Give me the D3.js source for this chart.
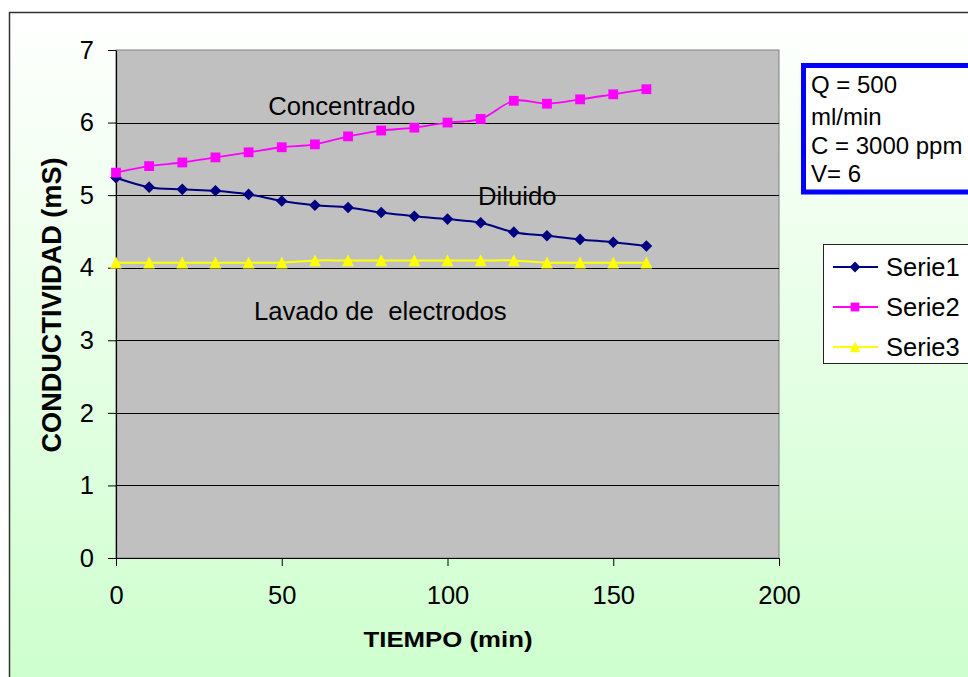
<!DOCTYPE html>
<html>
<head>
<meta charset="utf-8">
<script src="https://cdn.jsdelivr.net/npm/d3@7"></script>
<style>
  body { margin: 0; background: #ffffff; }
  svg { display: block; }
  text { font-family: Arial, "Liberation Sans", sans-serif; fill: #000; white-space: pre; }
</style>
</head>
<body>
<svg id="chart" width="968" height="677"></svg>
<script>
// Time (min) and conductivity (mS) readings
const tiempo = [0, 10, 20, 30, 40, 50, 60, 70, 80, 90, 100, 110, 120, 130, 140, 150, 160];
const serie1 = [5.24, 5.11, 5.08, 5.06, 5.01, 4.92, 4.86, 4.83, 4.76, 4.71, 4.67, 4.62, 4.49, 4.44, 4.39, 4.35, 4.30];
const serie2 = [5.31, 5.40, 5.45, 5.52, 5.59, 5.66, 5.70, 5.81, 5.89, 5.93, 6.00, 6.05, 6.30, 6.26, 6.32, 6.39, 6.46];
const serie3 = [4.07, 4.07, 4.07, 4.07, 4.07, 4.07, 4.10, 4.10, 4.10, 4.10, 4.10, 4.10, 4.10, 4.07, 4.07, 4.07, 4.07];
const seriesNames = ["Serie1", "Serie2", "Serie3"];
const xTicks = [0, 50, 100, 150, 200];
const yTicks = [0, 1, 2, 3, 4, 5, 6, 7];
const streamLabels = ["Concentrado", "Diluido", "Lavado de  electrodos"];
const conditions = ["Q = 500", "ml/min", "C = 3000 ppm", "V= 6"];

const svg = d3.select("#chart");

// Chart frame with soft white-to-green fill
const defs = svg.append("defs");
const grad = defs.append("linearGradient").attr("id", "bg")
  .attr("x1", 0).attr("y1", 0).attr("x2", 0).attr("y2", 1);
grad.append("stop").attr("offset", "0%").attr("stop-color", "#ffffff");
grad.append("stop").attr("offset", "100%").attr("stop-color", "#ccffcc");

svg.append("rect")
  .attr("x", 9.5).attr("y", 12.5).attr("width", 990).attr("height", 690)
  .attr("fill", "url(#bg)").attr("stroke", "#333").attr("stroke-width", 1.5);

// Plot area
const plot = { left: 116, top: 50, right: 779, bottom: 558 };
const x = d3.scaleLinear().domain([0, 200]).range([plot.left, plot.right]);
const y = d3.scaleLinear().domain([0, 7]).range([plot.bottom, plot.top]);

svg.append("rect")
  .attr("x", plot.left).attr("y", plot.top)
  .attr("width", plot.right - plot.left).attr("height", plot.bottom - plot.top)
  .attr("fill", "#c0c0c0").attr("stroke", "#808080").attr("stroke-width", 1);

// Horizontal gridlines
svg.append("g").selectAll("line")
  .data(yTicks.filter(v => v > 0 && v < 7))
  .join("line")
  .attr("x1", plot.left).attr("x2", plot.right)
  .attr("y1", d => Math.round(y(d)) + 0.5).attr("y2", d => Math.round(y(d)) + 0.5)
  .attr("stroke", "#000").attr("stroke-width", 1);

// Axes
const yAxis = svg.append("g")
  .attr("transform", `translate(${plot.left},0)`)
  .call(d3.axisLeft(y).tickValues(yTicks).tickFormat(d3.format("d")).tickSizeInner(8).tickSizeOuter(0).tickPadding(14));
const xAxis = svg.append("g")
  .attr("transform", `translate(0,${plot.bottom})`)
  .call(d3.axisBottom(x).tickValues(xTicks).tickFormat(d3.format("d")).tickSizeInner(8).tickSizeOuter(0).tickPadding(20));

[yAxis, xAxis].forEach(g => {
  g.select(".domain").attr("stroke", "#000").attr("stroke-width", 1.2);
  g.selectAll(".tick line").attr("stroke", "#000").attr("stroke-width", 1);
  g.selectAll(".tick text").attr("font-size", 25.5).attr("font-family", "Arial, 'Liberation Sans', sans-serif").attr("fill", "#000");
});

// Axis titles
svg.append("text")
  .attr("transform", `translate(61,305) rotate(-90)`)
  .attr("text-anchor", "middle")
  .attr("font-size", 27).attr("font-weight", "bold")
  .attr("textLength", 295).attr("lengthAdjust", "spacingAndGlyphs")
  .text("CONDUCTIVIDAD (mS)");
svg.append("text")
  .attr("x", 448).attr("y", 646.5)
  .attr("text-anchor", "middle")
  .attr("font-size", 22).attr("font-weight", "bold")
  .attr("textLength", 169).attr("lengthAdjust", "spacingAndGlyphs")
  .text("TIEMPO (min)");

// Marker shapes
const markerPath = {
  diamond: r => `M0,${-r}L${r},0L0,${r}L${-r},0Z`,
  square: r => `M${-r},${-r}H${r}V${r}H${-r}Z`,
  triangle: r => `M0,${-r * 1.1}L${r * 1.05},${r * 1.05}L${-r * 1.05},${r * 1.05}Z`
};
const styles = [
  { color: "#000080", width: 2, shape: "diamond", r: 5.8, lr: 5.4 },
  { color: "#ff00ff", width: 1.8, shape: "square", r: 4.9, lr: 4.4 },
  { color: "#ffff00", width: 2, shape: "triangle", r: 5.6, lr: 5.0 }
];
const seriesData = [serie1, serie2, serie3];

const line = d3.line()
  .x(d => x(d[0])).y(d => y(d[1]))
  .curve(d3.curveCardinal.tension(0));

// Draw yellow first so the other series sit above it
[2, 0, 1].forEach(i => {
  const pts = tiempo.map((t, k) => [t, seriesData[i][k]]);
  const st = styles[i];
  const g = svg.append("g");
  g.append("path").datum(pts)
    .attr("d", line).attr("fill", "none")
    .attr("stroke", st.color).attr("stroke-width", st.width);
  g.selectAll("path.m").data(pts).join("path")
    .attr("class", "m")
    .attr("transform", d => `translate(${x(d[0])},${y(d[1])})`)
    .attr("d", markerPath[st.shape](st.r))
    .attr("fill", st.color);
});

// Stream labels placed in data coordinates
const labelPos = [[45.9, 6.10], [109.2, 4.86], [41.6, 3.28]];
svg.append("g").selectAll("text").data(streamLabels).join("text")
  .attr("x", (d, i) => x(labelPos[i][0]))
  .attr("y", (d, i) => y(labelPos[i][1]))
  .attr("font-size", 25.7)
  .attr("xml:space", "preserve")
  .text(d => d);

// Operating conditions box
svg.append("rect")
  .attr("x", 803.5).attr("y", 65.5).attr("width", 200).attr("height", 126.5)
  .attr("fill", "#ffffff").attr("stroke", "#0000ff").attr("stroke-width", 5);
const condY = [93, 125, 153.5, 181.5];
svg.append("g").selectAll("text").data(conditions).join("text")
  .attr("x", 811).attr("y", (d, i) => condY[i])
  .attr("font-size", 24)
  .text(d => d);

// Legend
const legend = svg.append("g");
legend.append("rect")
  .attr("x", 823.5).attr("y", 244.5).attr("width", 200).attr("height", 119)
  .attr("fill", "#ffffff").attr("stroke", "#222").attr("stroke-width", 1);
seriesNames.forEach((name, i) => {
  const cy = 267 + i * 40;
  const st = styles[i];
  legend.append("line")
    .attr("x1", 833).attr("x2", 878).attr("y1", cy).attr("y2", cy)
    .attr("stroke", st.color).attr("stroke-width", st.width);
  legend.append("path")
    .attr("transform", `translate(855,${cy})`)
    .attr("d", markerPath[st.shape](st.lr))
    .attr("fill", st.color);
  legend.append("text")
    .attr("x", 886).attr("y", cy + 8.5)
    .attr("font-size", 25.5)
    .text(name);
});
</script>
</body>
</html>
